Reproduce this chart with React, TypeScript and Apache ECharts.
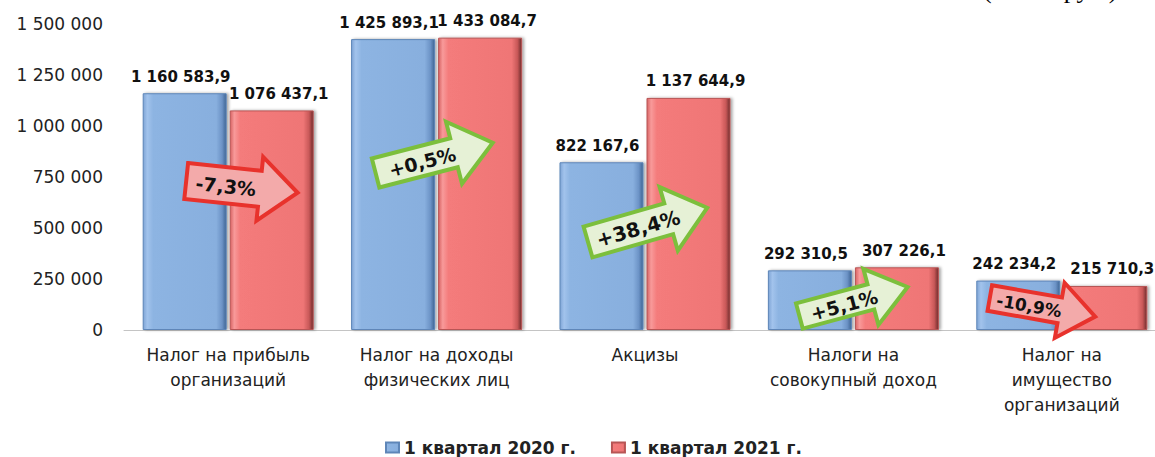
import React, { useEffect, useRef } from "react";
import * as echarts from "echarts";

// ---- data ----
const categories = [
  "Налог на прибыль\nорганизаций",
  "Налог на доходы\nфизических лиц",
  "Акцизы",
  "Налоги на\nсовокупный доход",
  "Налог на\nимущество\nорганизаций",
];
const seriesNames = ["1 квартал 2020 г.", "1 квартал 2021 г."];
const q1_2020 = [1160583.9, 1425893.1, 822167.6, 292310.5, 242234.2];
const q1_2021 = [1076437.1, 1433084.7, 1137644.9, 307226.1, 215710.3];
const yMin = 0;
const yMax = 1500000;
const yInterval = 250000;
const unitNote = "(в тыс. руб.)";

// ---- annotation layout (arrows), relative to category centres ----
const arrowLayout = [
  { dx: -42, y: 181, angle: -6, L: 112, h: 18, H: 32, hl: 38, tx: 40, fs: 19 },
  { dx: -61, y: 173, angle: 14.5, L: 121, h: 15, H: 32, hl: 40, tx: 48, fs: 19 },
  { dx: -57, y: 242, angle: 16, L: 124, h: 16, H: 33, hl: 40, tx: 52, fs: 20 },
  { dx: -54, y: 316, angle: 15, L: 112, h: 13, H: 29, hl: 38, tx: 46, fs: 19 },
  { dx: -72, y: 298, angle: -10, L: 107, h: 13, H: 28, hl: 36, tx: 40, fs: 17 },
];

const groupThousands = (s: string) => s.replace(/\B(?=(\d{3})+(?!\d))/g, " ");
const fmtValue = (v: number) => {
  const [i, d] = v.toFixed(1).split(".");
  return groupThousands(i) + "," + d;
};
const fmtAxis = (v: number) => groupThousands(String(Math.round(v)));
const pctChange = (a: number, b: number) => {
  const p = (b / a - 1) * 100;
  const s = Math.abs(p).toFixed(1).replace(".", ",");
  return (p >= 0 ? "+" : "-") + s + "%";
};

const CHART_W = 1175;
const CHART_H = 457;

export default function App() {
  const ref = useRef<HTMLDivElement>(null);
  useEffect(() => {
    if (!ref.current) return;
    const chart = echarts.init(ref.current, undefined, { renderer: "svg" });
    const blueFill = new echarts.graphic.LinearGradient(0, 0, 1, 0, [
      { offset: 0, color: "#7FA5D6" },
      { offset: 0.05, color: "#A2C3EC" },
      { offset: 0.12, color: "#8DB4E2" },
      { offset: 0.88, color: "#88AFDE" },
      { offset: 0.95, color: "#6C93C6" },
      { offset: 1, color: "#3F6594" },
    ]);
    const redFill = new echarts.graphic.LinearGradient(0, 0, 1, 0, [
      { offset: 0, color: "#D86464" },
      { offset: 0.05, color: "#F89A9A" },
      { offset: 0.12, color: "#F47B7B" },
      { offset: 0.88, color: "#EF7676" },
      { offset: 0.95, color: "#C85858" },
      { offset: 1, color: "#6E2C2C" },
    ]);
    const labelStyle = {
      show: true,
      position: "top" as const,
      distance: 9,
      fontFamily: "DejaVu Sans",
      fontWeight: "bold" as const,
      fontSize: 15,
      color: "#111",
      formatter: (p: any) => fmtValue(p.value),
    };
    chart.setOption({
      animation: false,
      backgroundColor: "#fff",
      grid: { left: 124, right: CHART_W - 124 - 1042, top: 24, bottom: CHART_H - 330, containLabel: false },
      legend: {
        data: seriesNames,
        top: 434,
        left: 380,
        icon: "rect",
        itemWidth: 13,
        itemHeight: 10,
        itemGap: 35,
        textStyle: { fontFamily: "DejaVu Sans", fontWeight: "bold", fontSize: 17, color: "#222" },
      },
      xAxis: {
        type: "category",
        data: categories,
        axisLine: { show: true, lineStyle: { color: "#C4C4C4", width: 1 } },
        axisTick: { show: false },
        axisLabel: {
          fontFamily: "DejaVu Sans",
          fontSize: 17,
          color: "#222",
          lineHeight: 25,
          margin: 12,
          interval: 0,
        },
      },
      yAxis: {
        type: "value",
        min: yMin,
        max: yMax,
        interval: yInterval,
        axisLine: { show: false },
        axisTick: { show: false },
        splitLine: { show: false },
        axisLabel: {
          fontFamily: "DejaVu Sans",
          fontSize: 17,
          color: "#222",
          margin: 21,
          formatter: (v: number) => fmtAxis(v),
        },
      },
      series: [
        {
          name: seriesNames[0],
          type: "bar",
          data: q1_2020,
          barWidth: 84,
          barGap: "3.6%",
          z: 2,
          itemStyle: {
            color: blueFill,
            borderColor: "#5E86B8",
            borderWidth: 1,
            shadowColor: "rgba(0,0,0,0.35)",
            shadowBlur: 3,
            shadowOffsetX: 2,
          },
          label: { ...labelStyle, offset: [-4, 0] },
        },
        {
          name: seriesNames[1],
          type: "bar",
          data: q1_2021,
          barWidth: 84,
          z: 2,
          itemStyle: {
            color: redFill,
            borderColor: "#B85555",
            borderWidth: 1,
            shadowColor: "rgba(0,0,0,0.35)",
            shadowBlur: 3,
            shadowOffsetX: 2,
          },
          label: { ...labelStyle, offset: [7, 0] },
        },
      ],
    });

    const graphics: any[] = [];
    arrowLayout.forEach((a, i) => {
      const cx = chart.convertToPixel({ xAxisIndex: 0 }, i) as number;
      const up = q1_2021[i] >= q1_2020[i];
      const stroke = up ? "#7CBF3C" : "#E8322C";
      const fill = up ? "#E6F1D6" : "#F3AAAA";
      const { L, h, H, hl } = a;
      graphics.push({
        type: "group",
        x: cx + a.dx,
        y: a.y,
        rotation: (a.angle * Math.PI) / 180,
        z: 100,
        children: [
          {
            type: "polygon",
            z: 100,
            shape: {
              points: [
                [0, -h],
                [L - hl, -h],
                [L - hl, -H],
                [L, 0],
                [L - hl, H],
                [L - hl, h],
                [0, h],
              ],
            },
            style: { fill, stroke, lineWidth: 4, lineJoin: "miter" },
          },
          {
            type: "text",
            z: 101,
            x: a.tx,
            y: 1,
            style: {
              text: pctChange(q1_2020[i], q1_2021[i]),
              font: `bold ${a.fs}px "DejaVu Sans"`,
              fill: "#111",
              align: "center",
              verticalAlign: "middle",
              textAlign: "center",
              textVerticalAlign: "middle",
            },
          },
        ],
      });
    });
    graphics.push({
      type: "text",
      x: 983,
      y: 2,
      z: 100,
      style: {
        text: unitNote,
        font: '26px "Liberation Serif"',
        fill: "#000",
        align: "left",
        verticalAlign: "bottom",
        textAlign: "left",
        textVerticalAlign: "bottom",
      },
    });
    chart.setOption({ graphic: { elements: graphics } });

    return () => chart.dispose();
  }, []);

  return (
    <div
      style={{
        position: "absolute",
        left: 0,
        top: 0,
        width: 1155,
        height: CHART_H,
        overflow: "hidden",
        background: "#fff",
      }}
    >
      <div ref={ref} style={{ width: CHART_W, height: CHART_H }} />
    </div>
  );
}
